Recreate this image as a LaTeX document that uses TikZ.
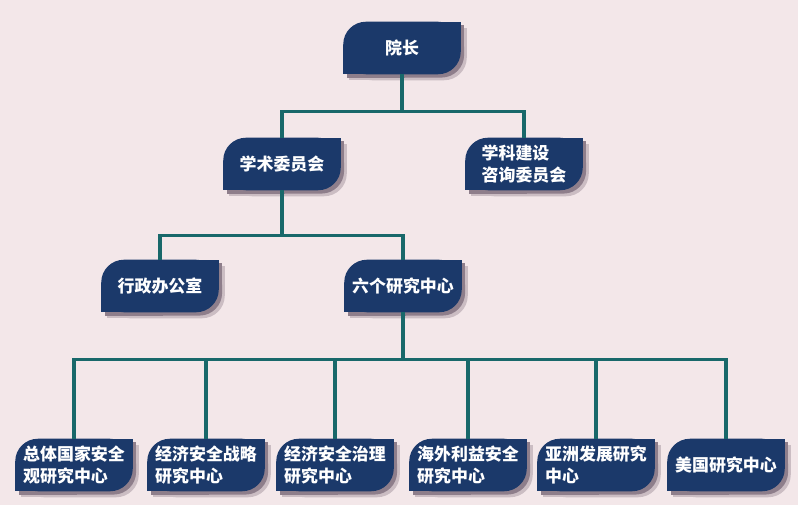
\documentclass[tikz,border=0pt]{standalone}
\usepackage{fontspec}
\newfontfamily\cjk{Noto Sans CJK SC}
\usetikzlibrary{positioning}
\definecolor{bgpink}{RGB}{243,231,233}
\definecolor{navy}{RGB}{27,57,106}
\definecolor{tealline}{RGB}{24,104,106}
\definecolor{shade}{RGB}{60,40,62}
\pgfdeclarelayer{background}
\pgfsetlayers{background,main}

\begin{document}
\begin{tikzpicture}[x=0.75pt,y=0.75pt,yscale=-1,xscale=1,
  unit/.style={text=white,font=\cjk\bfseries\fontsize{12.7}{16.5}\selectfont,align=left,
    minimum width=87.75pt,minimum height=39pt,inner sep=0pt},
  link/.style={draw=tealline,line width=2.3pt}]
%set diagram left start at 0, and has height of 505
\begin{pgfonlayer}{background}
\fill[bgpink] (0,0) rectangle (798,505);
\end{pgfonlayer}
\useasboundingbox (0,0) rectangle (798,505);

% Text Node
\node (dean) at (402,48) [unit] {院长};
% Text Node
\node (acad) at (282,164) [unit] {学术委员会};
% Text Node
\node (consult) at (524,164) [unit] {学科建设\\咨询委员会};
% Text Node
\node (office) at (160,286) [unit] {行政办公室};
% Text Node
\node (centers) at (403,286) [unit] {六个研究中心};
% Text Node
\node (c1) at (74,465) [unit] {总体国家安全\\观研究中心};
\node (c2) at (206,465) [unit] {经济安全战略\\研究中心};
\node (c3) at (335,465) [unit] {经济安全治理\\研究中心};
\node (c4) at (468,465) [unit] {海外利益安全\\研究中心};
\node (c5) at (596,465) [unit] {亚洲发展研究\\中心};
\node (c6) at (726,465) [unit] {美国研究中心};

%Shape: Boxes with shadow, rounded top left and bottom right
\begin{pgfonlayer}{background}
\foreach \n in {dean,acad,consult,office,centers,c1,c2,c3,c4,c5,c6} {
  \foreach \d/\col in {4.5/shade!22!bgpink,2.5/shade!55!bgpink,0/navy} {
    \begin{scope}[transform canvas={shift={(\d pt,-\d pt)}}]
      \fill[\col,rounded corners=17pt] (\n.north west) rectangle (\n.south east);
      \fill[\col] (\n.north east) rectangle (\n.center);
      \fill[\col] (\n.south west) rectangle (\n.center);
    \end{scope}
  }
}
\end{pgfonlayer}

%Straight Lines
\draw[link] (dean.south) -- ++(0,37) -| (acad.north);
\draw[link] (dean.south) -- ++(0,37) -| (consult.north);
%Straight Lines
\draw[link] (acad.south) -- ++(0,45) -| (office.north);
\draw[link] (acad.south) -- ++(0,45) -| (centers.north);
%Straight Lines
\foreach \c in {c1,c2,c3,c4,c5,c6}
  \draw[link] (centers.south) -- ++(0,47) -| (\c.north);

\end{tikzpicture}
\end{document}
